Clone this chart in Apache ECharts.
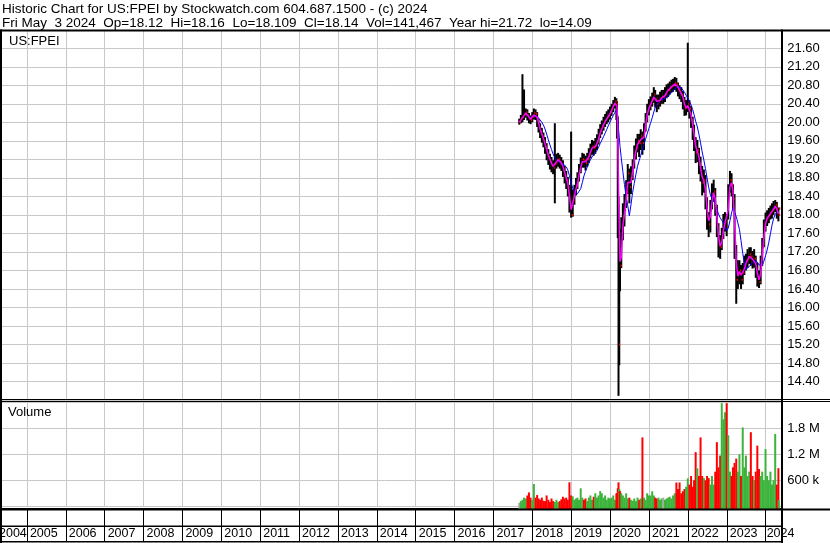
<!DOCTYPE html>
<html><head><meta charset="utf-8">
<script src="https://cdn.jsdelivr.net/npm/echarts@6/dist/echarts.min.js"></script>
<style>html,body{margin:0;padding:0;background:#fff;overflow:hidden;width:830px;height:543px;position:relative}#c{position:absolute;left:-12px;top:0;width:842px;height:543px}</style>
</head><body><div id="c"></div>
<script>
// ---------- DATA ----------
const dates = [
 '2017-08-31','2017-09-15','2017-09-30','2017-10-15','2017-10-31','2017-11-15','2017-11-30','2017-12-15','2017-12-31',
 '2018-01-15','2018-01-31','2018-02-15','2018-02-28','2018-03-15','2018-03-31','2018-04-15','2018-04-30','2018-05-15','2018-05-31','2018-06-15','2018-06-30',
 '2018-07-15','2018-07-31','2018-08-15','2018-08-31','2018-09-15','2018-09-30','2018-10-15','2018-10-31','2018-11-15','2018-11-30','2018-12-15','2018-12-31',
 '2019-01-15','2019-01-31','2019-02-15','2019-02-28','2019-03-15','2019-03-31','2019-04-15','2019-04-30','2019-05-15','2019-05-31','2019-06-15','2019-06-30',
 '2019-07-15','2019-07-31','2019-08-15','2019-08-31','2019-09-15','2019-09-30','2019-10-15','2019-10-31','2019-11-15','2019-11-30','2019-12-15','2019-12-31',
 '2020-01-15','2020-01-31','2020-02-15','2020-02-29','2020-03-06','2020-03-13','2020-03-20','2020-03-27','2020-04-03','2020-04-15','2020-04-30',
 '2020-05-15','2020-05-31','2020-06-15','2020-06-30','2020-07-15','2020-07-31','2020-08-15','2020-08-31','2020-09-15','2020-09-30','2020-10-15','2020-10-31','2020-11-15','2020-11-30','2020-12-15','2020-12-31',
 '2021-01-15','2021-01-31','2021-02-15','2021-02-28','2021-03-15','2021-03-31','2021-04-15','2021-04-30','2021-05-15','2021-05-31','2021-06-15','2021-06-30',
 '2021-07-15','2021-07-31','2021-08-15','2021-08-31','2021-09-15','2021-09-30','2021-10-15','2021-10-31','2021-11-15','2021-11-30','2021-12-15','2021-12-31',
 '2022-01-15','2022-01-31','2022-02-15','2022-02-28','2022-03-15','2022-03-31','2022-04-15','2022-04-30','2022-05-15','2022-05-31','2022-06-15','2022-06-30',
 '2022-07-15','2022-07-31','2022-08-15','2022-08-31','2022-09-15','2022-09-30','2022-10-15','2022-10-31','2022-11-15','2022-11-30','2022-12-15','2022-12-31',
 '2023-01-15','2023-01-31','2023-02-15','2023-02-28','2023-03-15','2023-03-31','2023-04-15','2023-04-30','2023-05-15','2023-05-31','2023-06-15','2023-06-30',
 '2023-07-15','2023-07-31','2023-08-15','2023-08-31','2023-09-15','2023-09-30','2023-10-15','2023-10-31','2023-11-15','2023-11-30','2023-12-15','2023-12-31',
 '2024-01-15','2024-01-31','2024-02-15','2024-02-29','2024-03-15','2024-03-31','2024-04-15','2024-04-30','2024-05-03'
];
const closes = [
 20.00,20.08,20.12,20.18,20.22,20.15,20.08,20.05,20.12,
 20.20,20.18,20.05,19.90,19.80,19.70,19.60,19.48,19.35,19.25,19.15,19.08,
 19.02,19.10,19.18,19.20,19.15,19.10,19.00,18.85,18.75,18.60,18.25,18.00,
 18.30,18.50,18.62,18.75,18.95,19.10,19.20,19.18,19.12,19.20,19.30,19.40,
 19.48,19.45,19.50,19.58,19.72,19.82,19.90,19.98,20.05,20.10,20.15,20.22,
 20.30,20.38,20.45,20.40,20.05,18.20,15.20,17.10,16.90,17.70,17.95,
 18.10,18.50,18.90,18.60,18.80,19.05,19.30,19.45,19.60,19.55,19.70,19.55,19.80,20.05,20.25,20.35,
 20.42,20.50,20.60,20.50,20.40,20.45,20.50,20.55,20.55,20.60,20.68,20.70,
 20.75,20.78,20.80,20.85,20.82,20.72,20.65,20.60,20.50,20.30,20.32,20.40,
 20.30,20.05,19.85,19.60,19.35,19.40,19.10,18.95,18.70,18.75,18.35,17.95,
 17.80,18.10,18.45,18.50,18.20,17.75,17.35,17.30,17.50,17.80,17.85,17.75,
 18.45,18.75,18.65,18.35,17.40,16.60,16.75,16.80,16.60,16.75,16.90,17.00,
 17.05,17.15,17.10,17.00,17.05,16.85,16.65,16.55,16.90,17.30,17.70,17.90,
 17.95,18.00,18.05,18.10,18.15,18.22,18.05,18.00,18.14
];
const highs = [
 20.08,20.16,21.04,20.71,20.30,20.28,20.20,20.15,20.22,
 20.30,20.28,20.22,20.08,19.98,19.88,19.78,19.68,19.55,19.42,19.32,19.25,
 19.18,19.98,19.32,19.34,19.30,19.25,19.18,19.06,18.95,18.82,18.65,19.80,
 18.55,18.65,18.80,18.92,19.10,19.24,19.34,19.32,19.28,19.34,19.44,19.54,
 19.62,19.60,19.66,19.74,19.86,19.96,20.04,20.12,20.18,20.24,20.28,20.34,
 20.40,20.48,20.55,20.52,20.45,20.12,18.40,17.60,17.70,17.95,18.25,
 18.45,18.75,19.10,19.00,19.05,19.20,19.50,19.65,19.75,19.75,19.85,19.80,19.98,20.20,20.40,20.50,
 20.56,20.64,20.76,20.70,20.60,20.60,20.66,20.70,20.70,20.76,20.82,20.84,
 20.88,20.92,20.94,20.98,20.96,20.86,20.80,20.76,20.68,20.55,20.48,21.72,
 20.48,20.35,20.12,19.95,19.68,19.62,19.45,19.26,19.06,18.98,18.86,18.38,
 18.06,18.32,18.68,18.76,18.58,18.22,17.82,17.56,17.72,18.02,18.06,18.02,
 18.66,18.95,18.90,18.66,18.45,17.35,17.02,17.02,16.92,16.96,17.12,17.16,
 17.26,17.30,17.30,17.22,17.26,17.12,16.96,16.80,17.12,17.50,17.90,18.05,
 18.10,18.15,18.20,18.25,18.30,18.32,18.28,18.14,18.16
];
const lows = [
 19.95,19.98,20.00,20.05,20.10,20.04,19.98,19.96,20.00,
 20.06,20.05,19.90,19.78,19.66,19.56,19.46,19.32,19.18,19.08,18.98,18.92,
 18.88,18.25,19.00,19.04,19.00,18.95,18.82,18.68,18.56,18.40,18.05,17.94,
 17.96,18.22,18.42,18.56,18.72,18.90,19.02,19.02,18.96,19.04,19.12,19.22,
 19.30,19.28,19.32,19.40,19.52,19.66,19.74,19.82,19.90,19.96,20.00,20.06,
 20.14,20.22,20.30,20.05,19.65,17.50,14.09,14.75,16.35,16.85,17.45,
 17.75,18.15,18.45,18.25,18.45,18.75,19.00,19.20,19.35,19.25,19.40,19.30,19.40,19.80,20.00,20.15,
 20.26,20.34,20.42,20.32,20.22,20.28,20.34,20.40,20.40,20.44,20.52,20.55,
 20.60,20.64,20.66,20.70,20.66,20.56,20.50,20.44,20.28,20.14,20.15,20.22,
 20.08,19.88,19.62,19.38,19.12,19.14,18.88,18.72,18.42,18.48,18.12,17.68,
 17.52,17.62,18.12,18.28,17.98,17.52,17.08,17.05,17.24,17.48,17.64,17.54,
 17.90,18.48,18.40,18.12,17.05,16.08,16.40,16.50,16.40,16.50,16.70,16.80,
 16.86,16.94,16.90,16.84,16.86,16.64,16.45,16.42,16.50,16.90,17.30,17.64,
 17.76,17.82,17.90,17.92,18.00,18.06,17.92,17.86,18.109
];
// peak daily volume in each period, thousands of shares
const volumesK = [
 80,120,150,200,180,250,320,200,150,
 515,200,260,180,150,200,130,120,250,150,100,180,
 120,100,150,100,120,160,220,180,200,150,554,250,
 230,150,180,200,150,415,200,150,180,120,200,250,
 150,220,300,200,250,350,300,200,250,150,200,180,
 200,250,150,300,300,415,554,400,350,300,250,
 200,300,180,200,150,130,180,120,200,150,180,1590,200,150,300,250,
 250,346,250,200,180,200,150,180,200,150,180,200,
 220,180,250,300,550,400,550,300,350,400,450,646,
 500,700,450,600,1250,877,700,1590,700,650,600,700,
 650,500,700,500,800,1480,900,1170,2380,2010,2170,2380,
 1640,800,700,900,1000,1100,800,1200,700,1820,900,1170,
 700,800,1710,700,600,800,1400,860,700,800,600,1320,
 700,600,800,500,600,1670,500,880,141
];
const priceLabelsShown = [14.4,14.8,15.2,15.6,16.0,16.4,16.8,17.2,17.6,18.0,18.4,18.8,19.2,19.6,20.0,20.4,20.8,21.2,21.6];
const volumeLabels = {600:'600 k',1200:'1.2 M',1800:'1.8 M'};
const titleLine1 = 'Historic Chart for US:FPEI by Stockwatch.com 604.687.1500 - (c) 2024';
const titleLine2 = 'Fri May  3 2024  Op=18.12  Hi=18.16  Lo=18.109  Cl=18.14  Vol=141,467  Year hi=21.72  lo=14.09';

// ---------- helpers ----------
function decYear(s){const p=s.split('-').map(Number);const y=p[0];const t=Date.UTC(y,p[1]-1,p[2]);const a=Date.UTC(y,0,1),b=Date.UTC(y+1,0,1);return y+(t-a)/(b-a);}
const tx = dates.map(decYear);
// time-weighted moving average of the close (each close holds over its period)
function tma(W,needFull){
  const t0=tx[0]-0.04;
  const out=[];
  tx.forEach((ti,i)=>{
    const a=ti-W;
    if(needFull && a<t0-0.005) return;
    let s=0,w=0;
    for(let j=i;j>=0;j--){
      const end=tx[j];const start=j>0?tx[j-1]:t0;
      const lo=Math.max(start,a),hi=Math.min(end,ti);
      if(hi>lo){s+=closes[j]*(hi-lo);w+=hi-lo;}
      if(start<=a)break;
    }
    out.push([ti,+(s/w).toFixed(3)]);
  });
  return out;
}
const priceData = tx.map((t,i)=>[t,highs[i],lows[i],closes[i]]);
const closeData = tx.map((t,i)=>[t,closes[i]]);
const volData = tx.map((t,i)=>[t,volumesK[i],i===0?0:(closes[i]>closes[i-1]?1:(closes[i]<closes[i-1]?-1:0))]);

const FONT='"Liberation Sans", Arial, sans-serif';
const GRID='#c8c8c8';
const OX=12; // container is shifted 12px left of the page
const AX={fontFamily:FONT,fontSize:12.5,color:'#000'};

const chart = echarts.init(document.getElementById('c'));
const option = {
  animation:false,
  backgroundColor:'#fff',
  grid:[
    {left:0,right:48.8,top:30,bottom:143,containLabel:false},
    {left:0,right:48.8,top:402,bottom:36.7,containLabel:false}
  ],
  xAxis:[
    {gridIndex:0,type:'value',min:2004,max:2024.4,interval:1,
     axisLine:{show:false},axisTick:{show:false},axisLabel:{show:false},
     splitLine:{show:true,lineStyle:{color:GRID,width:1}}},
    {gridIndex:1,type:'value',min:2004,max:2024.4,interval:1,offset:2.7,
     axisLine:{show:true,onZero:false,lineStyle:{color:'#000',width:2}},
     axisTick:{show:true,length:33,lineStyle:{color:'#000',width:1}},
     axisLabel:{show:true,margin:18,align:'left',color:'#000',fontFamily:FONT,fontSize:12.5,
       formatter:v=>v===2004?'{f|2004}':(v===2024?'{e|2024}':'{n|'+v+'}'),
       rich:{n:Object.assign({padding:[0,0,0,3]},AX),
             f:Object.assign({padding:[0,0,0,11]},AX),
             e:Object.assign({padding:[0,0,0,1]},AX)}},
     splitLine:{show:true,lineStyle:{color:GRID,width:1}}}
  ],
  yAxis:[
    {gridIndex:0,type:'value',position:'right',min:14,max:21.995,interval:0.4,
     axisLine:{show:false},axisTick:{show:false},
     axisLabel:{margin:6,color:'#000',fontFamily:FONT,fontSize:13,
       formatter:v=>priceLabelsShown.some(p=>Math.abs(p-v)<1e-6)?v.toFixed(2):''},
     splitLine:{show:true,lineStyle:{color:GRID,width:1}}},
    {gridIndex:1,type:'value',position:'right',min:0,max:2407,interval:600,
     axisLine:{show:false},axisTick:{show:false},
     axisLabel:{margin:6,color:'#000',fontFamily:FONT,fontSize:13,
       formatter:v=>volumeLabels[Math.round(v)]||''},
     splitLine:{show:true,lineStyle:{color:GRID,width:1}}}
  ],
  series:[
    {type:'custom',name:'bars',xAxisIndex:0,yAxisIndex:0,clip:true,data:priceData,
     encode:{x:0,y:[1,2,3]},z:2,
     renderItem:function(params,api){
       const x=api.value(0);
       const ph=api.coord([x,api.value(1)]),pl=api.coord([x,api.value(2)]);
       return {type:'rect',shape:{x:ph[0]-1,y:ph[1],width:2,height:Math.max(1,pl[1]-ph[1])},style:{fill:'#000'}};
     }},
    {type:'custom',name:'close',xAxisIndex:0,yAxisIndex:0,clip:true,data:closeData,
     encode:{x:0,y:1},z:3,
     renderItem:function(params,api){
       const pc=api.coord([api.value(0),api.value(1)]);
       return {type:'rect',shape:{x:pc[0]+0.5,y:pc[1]-1,width:1.2,height:2},style:{fill:'#ff0000'}};
     }},
    {type:'line',name:'MA long',xAxisIndex:0,yAxisIndex:0,data:tma(0.32,true),showSymbol:false,
     lineStyle:{color:'#0000ff',width:1},z:4},
    {type:'line',name:'MA short',xAxisIndex:0,yAxisIndex:0,data:tma(0.08,false),showSymbol:false,
     lineStyle:{color:'#ff00ff',width:1.5},z:5},
    {type:'custom',name:'volume',xAxisIndex:1,yAxisIndex:1,clip:false,data:volData,
     encode:{x:0,y:1},
     renderItem:function(params,api){
       const x=api.value(0),v=api.value(1),d=api.value(2);
       const p=api.coord([x,v]);
       const bottom=params.coordSys.y+params.coordSys.height+2.7;
       const col=d>0?'#3cb43c':(d<0?'#ff0000':'#a8a8a8');
       return {type:'rect',shape:{x:p[0]-1,y:p[1],width:2,height:bottom-p[1]},style:{fill:col}};
     }}
  ],
  graphic:[
    {type:'text',left:2+OX,top:2.5,z:100,style:{text:titleLine1,font:'13.5px '+FONT,fill:'#000'}},
    {type:'text',left:2+OX,top:16.3,z:100,style:{text:titleLine2,font:'13.5px '+FONT,fill:'#000'}},
    {type:'text',left:9+OX,top:34.5,z:100,style:{text:'US:FPEI',font:'13px '+FONT,fill:'#000'}},
    {type:'text',left:8+OX,top:406,z:100,style:{text:'Volume',font:'13px '+FONT,fill:'#000'}},
    // frame
    {type:'rect',z:100,shape:{x:OX,y:29.5,width:830,height:2},style:{fill:'#000'}},
    {type:'rect',z:100,shape:{x:OX,y:29.5,width:2,height:514},style:{fill:'#000'}},
    {type:'rect',z:100,shape:{x:781+OX,y:29.5,width:2,height:514},style:{fill:'#000'}},
    {type:'rect',z:100,shape:{x:OX,y:399,width:830,height:1},style:{fill:'#000'}},
    {type:'rect',z:100,shape:{x:OX,y:401,width:830,height:1},style:{fill:'#000'}},
    {type:'rect',z:100,shape:{x:OX,y:508.5,width:830,height:2},style:{fill:'#000'}},
    {type:'rect',z:100,shape:{x:OX,y:525.5,width:783,height:1.5},style:{fill:'#000'}},
    {type:'rect',z:100,shape:{x:OX,y:541,width:783,height:1.5},style:{fill:'#000'}}
  ]
};
chart.setOption(option);
</script>
</body></html>
